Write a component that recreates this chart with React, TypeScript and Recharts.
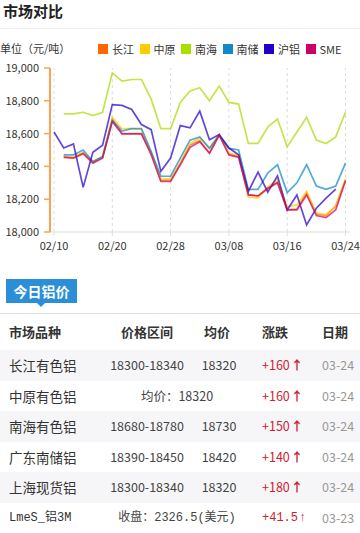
import React from 'react';
import { LineChart, Line, XAxis, YAxis, ReferenceLine, Legend } from 'recharts';

const dates = [
  '02/10', '02/11', '02/12', '02/13', '02/14', '02/17', '02/20', '02/21', '02/22', '02/24', '02/25',
  '02/26', '02/28', '03/01', '03/02', '03/03', '03/04', '03/05', '03/08', '03/09', '03/10', '03/11',
  '03/12', '03/13', '03/16', '03/17', '03/18', '03/19', '03/20', '03/23', '03/24',
];
const labeledDates = ['02/10', '02/20', '02/28', '03/08', '03/16', '03/24'];
const yTicks = [18000, 18200, 18400, 18600, 18800, 19000];

const seriesNames = ['长江', '中原', '南海', '南储', '沪铝', 'SME'];
const seriesColors = ['#ff6600', '#ffcc00', '#aadd00', '#1188cc', '#2200cc', '#cc0066'];

const changjiang = [null, 18460, 18453, 18483, 18425, 18455, 18688, 18600, 18600, 18600, 18480, 18315, 18315, 18420, 18530, 18557, 18482, 18594, 18476, 18461, 18226, 18220, 18267, 18304, 18135, 18140, 18240, 18110, 18100, 18160, 18320];
const zhongyuan = [null, 18462, 18455, 18485, 18428, 18457, 18698, 18630, 18630, 18625, 18485, 18324, 18324, 18420, 18539, 18573, 18512, 18594, 18480, 18470, 18212, 18208, 18277, 18318, 18155, 18165, 18247, 18114, 18108, 18155, 18320];
const nanhai = [null, 18720, 18720, 18730, 18710, 18730, 18970, 18920, 18930, 18930, 18810, 18630, 18630, 18790, 18860, 18880, 18800, 18890, 18790, 18780, 18540, 18540, 18640, 18690, 18520, 18610, 18700, 18560, 18540, 18580, 18730];
const nanchu = [null, 18470, 18470, 18500, 18430, 18460, 18680, 18615, 18630, 18630, 18490, 18340, 18340, 18450, 18560, 18580, 18510, 18590, 18510, 18500, 18260, 18260, 18360, 18410, 18240, 18300, 18410, 18280, 18260, 18280, 18420];
const hulv = [18610, 18512, 18537, 18272, 18486, 18529, 18777, 18772, 18747, 18655, 18624, 18370, 18451, 18649, 18635, 18737, 18563, 18594, 18512, 18471, 18247, 18365, 18243, 18342, 18135, 18226, 18043, 18145, 18206, 18261, null];
const sme = [null, 18455, 18450, 18478, 18420, 18450, 18673, 18598, 18598, 18598, 18471, 18308, 18308, 18410, 18516, 18550, 18480, 18590, 18470, 18455, 18226, 18220, 18265, 18300, 18135, 18135, 18226, 18100, 18088, 18135, 18312];

const seriesValues = [changjiang, zhongyuan, nanhai, nanchu, hulv, sme];

const data = dates.map((d, i) => {
  const row: Record<string, string | number | null> = { date: d };
  seriesNames.forEach((n, k) => {
    row[n] = seriesValues[k][i];
  });
  return row;
});

const tableHeaders = ['市场品种', '价格区间', '均价', '涨跌', '日期'];
const tableNames = ['长江有色铝', '中原有色铝', '南海有色铝', '广东南储铝', '上海现货铝', 'LmeS_铝3M'];
const tableRanges = ['18300-18340', null, '18680-18780', '18390-18450', '18300-18340', null];
const tableAvgs = ['18320', null, '18730', '18420', '18320', null];
const tableMerged = [null, '均价：18320', null, null, null, '收盘：2326.5(美元)'];
const tableChanges = ['+160', '+160', '+150', '+140', '+180', '+41.5'];
const tableDates = ['03-24', '03-24', '03-24', '03-24', '03-24', '03-23'];

const FONT = '"Noto Sans CJK SC", "Noto Sans", sans-serif';
const MONO = '"Liberation Mono", "Noto Sans CJK SC", monospace';

function LegendContent() {
  return (
    <div style={{ display: 'flex', fontFamily: FONT }}>
      {seriesNames.map((n, i) => (
        <div key={n} style={{ display: 'flex', alignItems: 'center', width: 41.5, height: 14 }}>
          <span style={{ display: 'inline-block', width: 10, height: 10, background: seriesColors[i], marginRight: 4 }} />
          <span style={{ fontSize: 11, color: '#333', lineHeight: '14px' }}>{n}</span>
        </div>
      ))}
    </div>
  );
}

export default function App() {
  const rowTop = 350;
  const rowH = 30.6;
  return (
    <div style={{ position: 'absolute', left: 0, top: 0, width: 360, height: 533, background: '#fff', fontFamily: FONT, overflow: 'hidden' }}>
      <div style={{ position: 'absolute', left: 3, top: 1, fontSize: 15, fontWeight: 'bold', color: '#222', lineHeight: '20px' }}>市场对比</div>
      <div style={{ position: 'absolute', left: 0, top: 28, width: 360, height: 1, background: '#eeeeee' }} />
      <div style={{ position: 'absolute', left: 0, top: 40, fontSize: 11, color: '#333', lineHeight: '16px' }}>单位（元/吨）</div>

      <div style={{ position: 'absolute', left: 0, top: 0 }}>
        <LineChart width={360} height={260} data={data} margin={{ top: 68, right: 10, bottom: 0, left: 0 }}>
          <Legend
            verticalAlign="middle"
            align="center"
            layout="horizontal"
            content={() => <LegendContent />}
            wrapperStyle={{ position: 'absolute', top: 42, left: 98, width: 260, height: 14 }}
          />
          {labeledDates.map((d) => (
            <ReferenceLine key={d} x={d} stroke="#dddddd" strokeDasharray="3 3" strokeWidth={1} />
          ))}
          <XAxis
            dataKey="date"
            ticks={labeledDates}
            interval={0}
            padding={{ left: 4, right: 4.5 }}
            axisLine={{ stroke: '#dddddd' }}
            tickLine={{ stroke: '#dddddd' }}
            tickSize={4}
            tickMargin={6}
            height={28}
            tick={{ fontSize: 11, fill: '#333', fontFamily: FONT }}
          />
          <YAxis
            domain={[18000, 19000]}
            ticks={yTicks}
            width={50}
            axisLine={{ stroke: '#ffa050', strokeWidth: 2 }}
            tickLine={{ stroke: '#ffa050', strokeWidth: 1.5 }}
            tickSize={6}
            tickMargin={5}
            tickFormatter={(v: number) => v.toLocaleString('en-US')}
            tick={{ fontSize: 11, fill: '#333', fontFamily: FONT }}
          />
          {seriesNames.map((n, i) => (
            <Line
              key={n}
              type="linear"
              dataKey={n}
              stroke={seriesColors[i]}
              strokeOpacity={0.72}
              strokeWidth={1.7}
              dot={false}
              activeDot={false}
              isAnimationActive={false}
            />
          ))}
        </LineChart>
      </div>

      <div style={{ position: 'absolute', left: 6, top: 279, width: 71, height: 24, background: '#2b8fd8', color: '#fff', fontSize: 14, fontWeight: 'bold', lineHeight: '24px', textAlign: 'center' }}>今日铝价</div>
      <div style={{ position: 'absolute', left: 37, top: 303, width: 0, height: 0, borderLeft: '4px solid transparent', borderRight: '4px solid transparent', borderTop: '4px solid #2b8fd8' }} />
      <div style={{ position: 'absolute', left: 0, top: 313, width: 360, height: 1, background: '#e3e3e3' }} />

      <div style={{ position: 'absolute', left: 0, top: 314, width: 360, height: 36, fontSize: 13, fontWeight: 'bold', color: '#333', lineHeight: '36px' }}>
        <span style={{ position: 'absolute', left: 9 }}>{tableHeaders[0]}</span>
        <span style={{ position: 'absolute', left: 107, width: 80, textAlign: 'center' }}>{tableHeaders[1]}</span>
        <span style={{ position: 'absolute', left: 187, width: 60, textAlign: 'center' }}>{tableHeaders[2]}</span>
        <span style={{ position: 'absolute', left: 262 }}>{tableHeaders[3]}</span>
        <span style={{ position: 'absolute', left: 322 }}>{tableHeaders[4]}</span>
      </div>

      {tableNames.map((name, i) => {
        const isLme = i === tableNames.length - 1;
        return (
          <div
            key={name}
            style={{
              position: 'absolute', left: 0, top: rowTop + i * rowH, width: 360, height: rowH,
              background: i % 2 === 0 ? '#f6f6f8' : '#ffffff', lineHeight: rowH + 'px', fontSize: 12.5, color: '#444',
            }}
          >
            <span style={{ position: 'absolute', left: 9, fontSize: isLme ? 12 : 13.5, fontFamily: isLme ? MONO : FONT, color: '#333' }}>{name}</span>
            {tableMerged[i] ? (
              <span style={{ position: 'absolute', left: 107, width: 140, textAlign: 'center', fontFamily: isLme ? MONO : FONT, fontSize: isLme ? 12 : 12.5 }}>{tableMerged[i]}</span>
            ) : (
              <>
                <span style={{ position: 'absolute', left: 97, width: 100, textAlign: 'center' }}>{tableRanges[i]}</span>
                <span style={{ position: 'absolute', left: 189, width: 60, textAlign: 'center' }}>{tableAvgs[i]}</span>
              </>
            )}
            <span style={{ position: 'absolute', left: 262, color: '#cc2233', fontFamily: isLme ? MONO : FONT, fontSize: isLme ? 12 : 12.5 }}>
              {tableChanges[i]}<span style={{ fontWeight: 'bold', marginLeft: 1 }}>↑</span>
            </span>
            <span style={{ position: 'absolute', left: 322, color: '#999' }}>{tableDates[i]}</span>
          </div>
        );
      })}
    </div>
  );
}
